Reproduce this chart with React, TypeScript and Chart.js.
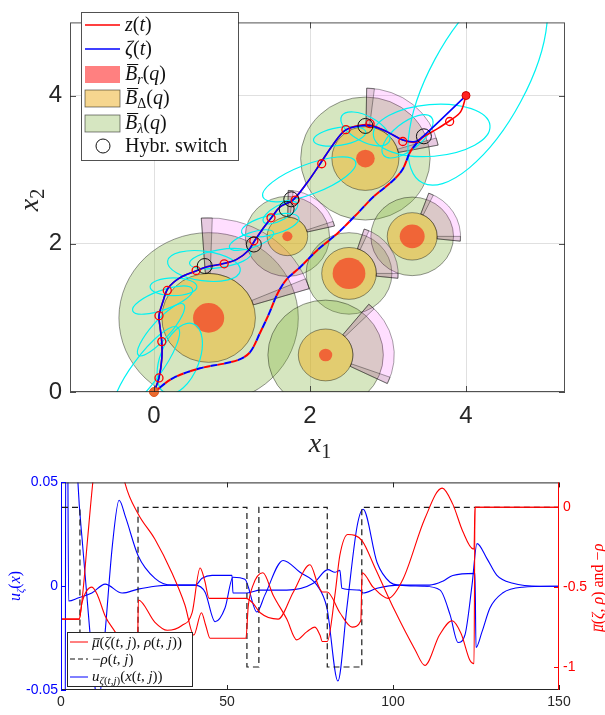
import React, { useEffect, useRef } from 'react';
import { Chart, registerables } from 'chart.js';
Chart.register(...registerables);

// ================= Top chart (state plane) data =================
const topXTicks = [0, 2, 4];
const topYTicks = [0, 2, 4];

// z(t) (red) trajectory
const zX = [0, 0.064, 0.10, 0.10, 0.077, 0.064, 0.115, 0.18, 0.33, 0.53, 0.68, 0.88, 1.06, 1.21, 1.29, 1.40, 1.51, 1.62, 1.78, 1.96, 2.13, 2.29, 2.45, 2.64, 2.79, 2.99, 3.19, 3.35, 3.45, 3.63, 3.79, 3.93, 4.0];
const zY = [0, 0.19, 0.45, 0.67, 0.88, 1.03, 1.22, 1.40, 1.54, 1.63, 1.69, 1.73, 1.79, 1.91, 2.04, 2.21, 2.36, 2.50, 2.59, 2.82, 3.08, 3.33, 3.53, 3.60, 3.60, 3.51, 3.40, 3.37, 3.44, 3.55, 3.66, 3.78, 4.0];
// zeta(t) (blue) trajectory
const zetaX = [0, 0.064, 0.10, 0.10, 0.077, 0.064, 0.115, 0.18, 0.33, 0.53, 0.68, 0.88, 1.06, 1.21, 1.29, 1.40, 1.51, 1.62, 1.78, 1.96, 2.13, 2.29, 2.45, 2.64, 2.79, 2.99, 3.19, 3.35, 3.45, 4.0];
const zetaY = [0, 0.19, 0.45, 0.67, 0.88, 1.03, 1.22, 1.40, 1.54, 1.63, 1.69, 1.73, 1.79, 1.91, 2.04, 2.21, 2.36, 2.50, 2.59, 2.82, 3.08, 3.33, 3.53, 3.59, 3.59, 3.51, 3.40, 3.38, 3.45, 4.0];
// lower (dashed) trajectory
const lowX = [0, 0.25, 0.59, 0.93, 1.12, 1.24, 1.36, 1.48, 1.58, 1.70, 1.87, 2.09, 2.35, 2.60, 2.81, 3.06, 3.19, 3.28, 3.37, 3.45];
const lowY = [0, 0.19, 0.32, 0.39, 0.45, 0.55, 0.80, 1.07, 1.32, 1.52, 1.68, 1.91, 2.14, 2.40, 2.63, 2.85, 3.01, 3.23, 3.36, 3.45];
// red sample markers
const markX = [0.064, 0.10, 0.064, 0.17, 0.54, 0.90, 1.28, 1.50, 1.81, 2.15, 2.46, 2.77, 3.19, 3.79];
const markY = [0.19, 0.68, 1.03, 1.37, 1.64, 1.73, 2.04, 2.35, 2.59, 3.08, 3.54, 3.62, 3.38, 3.65];
// hybrid switch markers
const switchX = [0.65, 1.28, 1.70, 1.76, 2.71, 3.46];
const switchY = [1.70, 1.99, 2.47, 2.60, 3.59, 3.45];
const startX = [0];
const startY = [0];
const endX = [4];
const endY = [4];

// obstacles
const obsX = [0.70, 1.71, 2.71, 2.50, 3.31, 2.20];
const obsY = [1.00, 2.10, 3.15, 1.60, 2.10, 0.50];
const obsRr = [0.20, 0.065, 0.12, 0.21, 0.16, 0.085];
const obsRd = [0.60, 0.26, 0.43, 0.35, 0.32, 0.35];
const obsRl = [1.15, 0.54, 0.83, 0.55, 0.53, 0.74];
const wedgeR = [1.35, 0.62, 0.95, 0.63, 0.62, 0.88];
const wedgeFrom = [17, 13, 11, -6, -6, -26];
const wedgeTo = [94, 89, 89, 72, 70, 51];

// cyan ellipses
const ellX = [4.15, 3.56, 2.38, 2.71, 3.25, 1.99, 1.49, 1.62, 0.64, 0.85, 0.11, 0.25, 0.09, 0.33, -0.10, 1.25];
const ellY = [4.20, 3.53, 3.45, 3.55, 3.45, 2.87, 2.25, 2.42, 1.70, 1.80, 1.24, 1.42, 0.84, 0.45, 0.30, 2.05];
const ellA = [1.55, 0.75, 0.34, 0.35, 0.40, 0.64, 0.38, 0.25, 0.47, 0.40, 0.41, 0.30, 0.45, 0.50, 0.70, 0.30];
const ellB = [0.62, 0.35, 0.12, 0.17, 0.18, 0.20, 0.13, 0.10, 0.20, 0.12, 0.13, 0.12, 0.12, 0.25, 0.18, 0.10];
const ellAng = [63, 5, 10, -30, 40, 22, 15, 30, -8, 10, 21, 0, 50, 70, 55, 20];

// ================= Bottom chart (time series) data =================
const botXTicks = [0, 50, 100, 150];
const leftTicks = [-0.05, 0, 0.05];
const rightTicks = [-1, -0.5, 0];

const u1T = [0, 0.3, 4.0, 5.1, 6.5, 8.7, 10.2, 11.2, 13.3, 15.5, 17.5, 19.5, 23.2, 28.3, 33.4, 40.4, 42.5, 45.5, 51.5, 51.8, 56, 60, 68, 76, 80.4, 82.5, 84, 84.6, 90, 91, 95.2, 102, 111, 115, 118, 124.7, 125, 126.8, 129.2, 133, 139, 150];
const u1V = [0, 0.1, 0.1, 0.05, 0.02, -0.022, -0.048, -0.058, -0.022, 0.02, 0.0414, 0.033, 0.0148, 0.0038, 0.0005, 0.0005, 0.0038, 0.0052, 0.0052, -0.0033, -0.0033, -0.0019, -0.0019, 0.0014, 0.008, 0.0067, 0.0076, -0.001, -0.0019, -0.0033, -0.001, 0.0005, 0.0005, 0.0024, 0.0052, 0.0062, -0.0295, -0.022, -0.0105, -0.0033, -0.0005, 0];
const u2T = [0, 0.25, 1.2, 1.5, 1.9, 2.3, 5.1, 9.3, 13.3, 18.4, 23.2, 28.3, 33.4, 40.4, 43.4, 46.4, 49.4, 51.8, 55.4, 59, 61.4, 66.9, 72, 77.1, 80.1, 83.4, 86.1, 89.2, 91, 95.2, 99.1, 102, 109, 114.2, 117.2, 119.6, 121.7, 123.8, 125.3, 128.3, 131.3, 136.1, 144.3, 150];
const u2V = [0, -0.1, -0.1, 0.1, 0.1, -0.0071, -0.0057, -0.0033, 0.001, -0.0033, -0.0014, 0, 0.0005, 0.0005, -0.0029, -0.0171, -0.0105, 0.0043, 0.0033, -0.0124, -0.0043, 0.0124, 0.0067, 0.0005, -0.0105, -0.0457, -0.0105, 0.029, 0.0371, 0.0114, 0.0019, 0.0005, 0, -0.0019, -0.0138, -0.0271, -0.0233, 0.0005, 0.0205, 0.0133, 0.0052, 0.0014, 0, 0];
const muAT = [0.3, 5.5, 6.5, 8, 9.6, 11, 14, 17, 19.3, 23.2, 28.3, 33.4, 37.3, 40, 42.3, 43.6, 44.9, 55.7, 56.4, 57.8, 60.8, 63.9, 68, 71, 74, 76.5, 78, 78.7, 80.2, 82.5, 84, 86.4, 90.7, 94.6, 100.6, 106.6, 109.6, 114, 117.8, 120.5, 123.2, 124.4, 124.7, 150];
const muAV = [-0.70, -0.70, -0.55, -0.2, 0.16, 0.4, 0.55, 0.4, 0.15, -0.04, -0.20, -0.41, -0.61, -0.80, -0.66, -0.74, -0.82, -0.82, -0.62, -0.49, -0.41, -0.55, -0.70, -0.83, -0.78, -0.75, -0.80, -0.84, -0.84, -0.55, -0.30, -0.17, -0.21, -0.38, -0.65, -0.89, -0.99, -0.80, -0.71, -0.79, -0.96, -0.98, 0, 0];
const muBT = [0.3, 5.5, 6.3, 9.3, 11, 13.3, 16.3, 20, 23.0, 23.3, 28.3, 32, 36.4, 39.5, 41.9, 43.3, 44.6, 55.7, 57.8, 60, 65.4, 70, 75, 77.5, 78.7, 80.2, 84, 87.7, 90.3, 90.7, 94, 98.5, 103, 109.6, 114.8, 118, 121, 124.1, 124.4, 124.7, 150];
const muBV = [-0.70, -0.70, -0.60, -0.50, -0.55, -0.68, -0.78, -0.9, -0.97, -0.58, -0.72, -0.77, -0.74, -0.66, -0.38, -0.46, -0.57, -0.57, -0.60, -0.66, -0.70, -0.53, -0.36, -0.49, -0.53, -0.53, -0.66, -0.75, -0.71, -0.41, -0.50, -0.57, -0.45, -0.07, 0.12, 0.02, -0.15, -0.26, -0.26, 0, 0];
const rhoT = [0.3, 5.7, 5.7, 23.2, 23.2, 56, 56, 59.6, 59.6, 80.2, 80.2, 90.6, 90.6, 150];
const rhoV = [0, 0, -1, -1, 0, 0, -1, -1, 0, 0, -1, -1, 0, 0];

// ================= helpers =================
const pts = (xs: number[], ys: number[]) => xs.map((x, i) => ({ x, y: ys[i] }));
const SERIF = '"Liberation Serif", "DejaVu Serif", serif';
const SANS = '"Liberation Sans", Arial, sans-serif';
const deg = Math.PI / 180;

type Seg = { t: string; i?: boolean; sub?: boolean; bar?: 'cap' | 'x' };
function segFont(s: Seg, size: number) {
  const fs = s.sub ? Math.round(size * 0.7) : size;
  return `${s.i ? 'italic ' : ''}${fs}px ${SERIF}`;
}
function richWidth(ctx: CanvasRenderingContext2D, segs: Seg[], size: number) {
  let w = 0;
  for (const s of segs) {
    ctx.font = segFont(s, size);
    w += ctx.measureText(s.t).width;
  }
  return w;
}
function drawRich(ctx: CanvasRenderingContext2D, segs: Seg[], x: number, y: number, size: number, color: string) {
  let cx = x;
  ctx.fillStyle = color;
  ctx.textBaseline = 'alphabetic';
  ctx.textAlign = 'left';
  for (const s of segs) {
    ctx.font = segFont(s, size);
    const dy = s.sub ? size * 0.22 : 0;
    ctx.fillText(s.t, cx, y + dy);
    const w = ctx.measureText(s.t).width;
    if (s.bar) {
      const by = y - (s.bar === 'cap' ? size * 0.8 : size * 0.58);
      ctx.fillRect(cx + size * 0.1, by, w - size * 0.05, Math.max(1, size * 0.05));
    }
    cx += w;
  }
}

const GREEN = 'rgba(119,172,48,0.3)';
const YELLOW = 'rgba(237,177,32,0.5)';
const REDF = 'rgba(255,0,0,0.5)';
const WEDGE = 'rgba(255,0,255,0.13)';
const STRIP = 'rgba(110,100,80,0.17)';
const EDGE = 'rgba(0,0,0,0.5)';

const shapesPlugin = {
  id: 'shapes',
  beforeDatasetsDraw(chart: any) {
    const { ctx, chartArea: a } = chart;
    const xs = chart.scales.x;
    const ys = chart.scales.y;
    const kx = xs.getPixelForValue(1) - xs.getPixelForValue(0);
    const ky = ys.getPixelForValue(0) - ys.getPixelForValue(1);
    const path = (cx: number, cy: number, build: () => void) => {
      ctx.beginPath();
      ctx.save();
      ctx.translate(xs.getPixelForValue(cx), ys.getPixelForValue(cy));
      ctx.scale(kx, -ky);
      build();
      ctx.restore();
    };
    const ann = (r0: number, r1: number, a0: number, a1: number) => () => {
      ctx.moveTo(r0 * Math.cos(a0), r0 * Math.sin(a0));
      ctx.arc(0, 0, r1, a0, a1, false);
      ctx.arc(0, 0, r0, a1, a0, true);
      ctx.closePath();
    };
    ctx.save();
    ctx.beginPath();
    ctx.rect(a.left, a.top, a.right - a.left, a.bottom - a.top);
    ctx.clip();
    for (let i = 0; i < obsX.length; i++) {
      path(obsX[i], obsY[i], () => ctx.arc(0, 0, obsRl[i], 0, 2 * Math.PI));
      ctx.fillStyle = GREEN;
      ctx.fill();
      ctx.strokeStyle = EDGE;
      ctx.lineWidth = 0.8;
      ctx.stroke();
    }
    for (let i = 0; i < obsX.length; i++) {
      const a0 = wedgeFrom[i] * deg;
      const a1 = wedgeTo[i] * deg;
      const d = 6 * deg;
      path(obsX[i], obsY[i], ann(obsRd[i], wedgeR[i], a0, a1));
      ctx.fillStyle = WEDGE;
      ctx.fill();
      ctx.strokeStyle = EDGE;
      ctx.lineWidth = 0.7;
      ctx.stroke();
      path(obsX[i], obsY[i], ann(obsRd[i], wedgeR[i], a0, a0 + d));
      ctx.fillStyle = STRIP;
      ctx.fill();
      ctx.stroke();
      path(obsX[i], obsY[i], ann(obsRd[i], wedgeR[i], a1 - d, a1));
      ctx.fill();
      ctx.stroke();
    }
    for (let i = 0; i < obsX.length; i++) {
      path(obsX[i], obsY[i], () => ctx.arc(0, 0, obsRd[i], 0, 2 * Math.PI));
      ctx.fillStyle = YELLOW;
      ctx.fill();
      ctx.strokeStyle = EDGE;
      ctx.lineWidth = 0.8;
      ctx.stroke();
    }
    for (let i = 0; i < obsX.length; i++) {
      path(obsX[i], obsY[i], () => ctx.arc(0, 0, obsRr[i], 0, 2 * Math.PI));
      ctx.fillStyle = REDF;
      ctx.fill();
    }
    for (let i = 0; i < ellX.length; i++) {
      path(ellX[i], ellY[i], () => ctx.ellipse(0, 0, ellA[i], ellB[i], ellAng[i] * deg, 0, 2 * Math.PI));
      ctx.strokeStyle = '#00f2f2';
      ctx.lineWidth = 1.2;
      ctx.stroke();
    }
    ctx.restore();
  },
};

const topFramePlugin = {
  id: 'topFrame',
  afterDatasetsDraw(chart: any) {
    const { ctx, chartArea: a } = chart;
    const xs = chart.scales.x;
    const ys = chart.scales.y;
    ctx.save();
    ctx.strokeStyle = 'rgba(38,38,38,0.8)';
    ctx.lineWidth = 1;
    ctx.strokeRect(a.left + 0.5, a.top + 0.5, a.right - a.left - 1, a.bottom - a.top - 1);
    ctx.beginPath();
    for (const v of topXTicks) {
      const p = Math.round(xs.getPixelForValue(v)) + 0.5;
      ctx.moveTo(p, a.bottom); ctx.lineTo(p, a.bottom - 6);
      ctx.moveTo(p, a.top); ctx.lineTo(p, a.top + 6);
    }
    for (const v of topYTicks) {
      const p = Math.round(ys.getPixelForValue(v)) + 0.5;
      ctx.moveTo(a.left, p); ctx.lineTo(a.left + 6, p);
      ctx.moveTo(a.right, p); ctx.lineTo(a.right - 6, p);
    }
    ctx.stroke();
    ctx.restore();
  },
  afterDraw(chart: any) {
    const { ctx } = chart;
    ctx.save();
    // legend box
    ctx.fillStyle = '#ffffff';
    ctx.fillRect(81, 12, 157, 148);
    ctx.strokeStyle = 'rgba(38,38,38,0.8)';
    ctx.lineWidth = 1;
    ctx.strokeRect(81.5, 12.5, 157, 148);
    const rows = [25, 49, 74, 98, 123, 146];
    const fs = 20;
    ctx.lineWidth = 1.6;
    ctx.strokeStyle = '#ff0000';
    ctx.beginPath(); ctx.moveTo(85, rows[0]); ctx.lineTo(120, rows[0]); ctx.stroke();
    ctx.strokeStyle = '#0000ff';
    ctx.beginPath(); ctx.moveTo(85, rows[1]); ctx.lineTo(120, rows[1]); ctx.stroke();
    ctx.fillStyle = '#ff8080';
    ctx.fillRect(85, rows[2] - 8, 35, 17);
    ctx.lineWidth = 0.8;
    ctx.strokeStyle = 'rgba(0,0,0,0.6)';
    ctx.fillStyle = '#f6d68f';
    ctx.fillRect(85, rows[3] - 8, 35, 17);
    ctx.strokeRect(85, rows[3] - 8, 35, 17);
    ctx.fillStyle = '#d6e6c1';
    ctx.fillRect(85, rows[4] - 8, 35, 17);
    ctx.strokeRect(85, rows[4] - 8, 35, 17);
    ctx.strokeStyle = '#111';
    ctx.lineWidth = 1;
    ctx.beginPath(); ctx.arc(103, rows[5], 7, 0, 2 * Math.PI); ctx.stroke();
    const tx = 125;
    const col = '#111';
    drawRich(ctx, [{ t: 'z', i: true }, { t: '(' }, { t: 't', i: true }, { t: ')' }], tx, rows[0] + 6, fs, col);
    drawRich(ctx, [{ t: 'ζ', i: true }, { t: '(' }, { t: 't', i: true }, { t: ')' }], tx, rows[1] + 6, fs, col);
    drawRich(ctx, [{ t: 'B', i: true, bar: 'cap' }, { t: 'r', i: true, sub: true }, { t: '(' }, { t: 'q', i: true }, { t: ')' }], tx, rows[2] + 6, fs, col);
    drawRich(ctx, [{ t: 'B', i: true, bar: 'cap' }, { t: 'Δ', sub: true }, { t: '(' }, { t: 'q', i: true }, { t: ')' }], tx, rows[3] + 6, fs, col);
    drawRich(ctx, [{ t: 'B', i: true, bar: 'cap' }, { t: 'λ', i: true, sub: true }, { t: '(' }, { t: 'q', i: true }, { t: ')' }], tx, rows[4] + 6, fs, col);
    drawRich(ctx, [{ t: 'Hybr. switch' }], tx, rows[5] + 6, fs, col);
    // axis titles
    const xt: Seg[] = [{ t: 'x', i: true }, { t: '1', sub: true }];
    const w1 = richWidth(ctx, xt, 28);
    drawRich(ctx, xt, 320 - w1 / 2, 452, 28, '#262626');
    const yt: Seg[] = [{ t: 'x', i: true }, { t: '2', sub: true }];
    const w2 = richWidth(ctx, yt, 28);
    ctx.translate(38, 200);
    ctx.rotate(-Math.PI / 2);
    drawRich(ctx, yt, -w2 / 2, 0, 28, '#262626');
    ctx.restore();
  },
};

const botFramePlugin = {
  id: 'botFrame',
  afterDatasetsDraw(chart: any) {
    const { ctx, chartArea: a } = chart;
    const xs = chart.scales.x;
    const yl = chart.scales.y;
    const yr = chart.scales.y1;
    ctx.save();
    ctx.lineWidth = 1;
    const seg = (x1: number, y1: number, x2: number, y2: number) => {
      ctx.beginPath(); ctx.moveTo(x1, y1); ctx.lineTo(x2, y2); ctx.stroke();
    };
    ctx.strokeStyle = '#262626';
    seg(a.left, a.top + 0.5, a.right, a.top + 0.5);
    seg(a.left, a.bottom - 0.5, a.right, a.bottom - 0.5);
    for (const v of botXTicks) {
      const p = Math.round(xs.getPixelForValue(v)) + 0.5;
      seg(p, a.bottom, p, a.bottom - 5);
      seg(p, a.top, p, a.top + 5);
    }
    ctx.strokeStyle = '#0000ff';
    seg(a.left + 0.5, a.top, a.left + 0.5, a.bottom);
    for (const v of leftTicks) {
      const p = Math.round(yl.getPixelForValue(v)) + 0.5;
      seg(a.left, p, a.left + 5, p);
    }
    ctx.strokeStyle = '#ff0000';
    seg(a.right - 0.5, a.top, a.right - 0.5, a.bottom);
    for (const v of rightTicks) {
      const p = Math.round(yr.getPixelForValue(v)) + 0.5;
      seg(a.right, p, a.right - 5, p);
    }
    ctx.restore();
  },
  afterDraw(chart: any) {
    const { ctx } = chart;
    ctx.save();
    // legend
    ctx.fillStyle = '#ffffff';
    ctx.fillRect(67, 162, 125, 54);
    ctx.strokeStyle = '#262626';
    ctx.lineWidth = 1;
    ctx.strokeRect(67.5, 162.5, 125, 54);
    const rows = [172, 189, 207];
    ctx.strokeStyle = '#ff0000';
    ctx.beginPath(); ctx.moveTo(70, rows[0]); ctx.lineTo(88, rows[0]); ctx.stroke();
    ctx.strokeStyle = '#111';
    ctx.setLineDash([5, 3]);
    ctx.beginPath(); ctx.moveTo(70, rows[1]); ctx.lineTo(88, rows[1]); ctx.stroke();
    ctx.setLineDash([]);
    ctx.strokeStyle = '#0000ff';
    ctx.beginPath(); ctx.moveTo(70, rows[2]); ctx.lineTo(88, rows[2]); ctx.stroke();
    const fs = 15;
    const tx = 92;
    drawRich(ctx, [{ t: 'μ', i: true, bar: 'x' }, { t: '(' }, { t: 'ζ', i: true }, { t: '(' }, { t: 't', i: true }, { t: ', ' }, { t: 'j', i: true }, { t: '), ' }, { t: 'ρ', i: true }, { t: '(' }, { t: 't', i: true }, { t: ', ' }, { t: 'j', i: true }, { t: '))' }], tx, rows[0] + 5, fs, '#111');
    drawRich(ctx, [{ t: '−' }, { t: 'ρ', i: true }, { t: '(' }, { t: 't', i: true }, { t: ', ' }, { t: 'j', i: true }, { t: ')' }], tx, rows[1] + 5, fs, '#111');
    drawRich(ctx, [{ t: 'u', i: true }, { t: 'ζ', i: true, sub: true }, { t: '(', sub: true }, { t: 't', i: true, sub: true }, { t: ',', sub: true }, { t: 'j', i: true, sub: true }, { t: ')', sub: true }, { t: '(' }, { t: 'x', i: true }, { t: '(' }, { t: 't', i: true }, { t: ', ' }, { t: 'j', i: true }, { t: '))' }], tx, rows[2] + 4, fs, '#111');
    // axis titles
    const lt: Seg[] = [{ t: 'u', i: true }, { t: 'ζ', i: true, sub: true }, { t: '(' }, { t: 'x', i: true }, { t: ')' }];
    const wl = richWidth(ctx, lt, 16);
    ctx.save();
    ctx.translate(20, 116);
    ctx.rotate(-Math.PI / 2);
    drawRich(ctx, lt, -wl / 2, 0, 16, '#0000ff');
    ctx.restore();
    const rt: Seg[] = [{ t: 'μ', i: true, bar: 'x' }, { t: '(' }, { t: 'ζ', i: true }, { t: ', ' }, { t: 'ρ', i: true }, { t: ') and −' }, { t: 'ρ', i: true }];
    const wr = richWidth(ctx, rt, 16);
    ctx.save();
    ctx.translate(603, 118);
    ctx.rotate(-Math.PI / 2);
    drawRich(ctx, rt, -wr / 2, 0, 16, '#ff0000');
    ctx.restore();
    ctx.restore();
  },
};

function topConfig(): any {
  return {
    type: 'scatter',
    data: {
      datasets: [
        { data: pts(startX, startY), pointRadius: 4.5, pointBackgroundColor: '#ea6a2e', pointBorderColor: '#e0561c', showLine: false, clip: false, order: 0 },
        { data: pts(endX, endY), pointRadius: 4, pointBackgroundColor: '#ff2020', pointBorderColor: '#cc0000', showLine: false, order: 0 },
        { data: pts(switchX, switchY), pointRadius: 7.5, pointBackgroundColor: 'rgba(0,0,0,0)', pointBorderColor: '#111', pointBorderWidth: 1, showLine: false, order: 1 },
        { data: pts(markX, markY), pointRadius: 4, pointBackgroundColor: 'rgba(0,0,0,0)', pointBorderColor: '#ff0000', pointBorderWidth: 1.3, showLine: false, order: 2 },
        { data: pts(zetaX, zetaY), showLine: true, borderColor: '#0000ff', borderWidth: 1.6, pointRadius: 0, tension: 0.35, order: 3 },
        { data: pts(zX, zY), showLine: true, borderColor: '#ff0000', borderWidth: 1.6, pointRadius: 0, tension: 0.35, order: 4 },
        { data: pts(lowX, lowY), showLine: true, borderColor: '#0000ff', borderWidth: 2, borderDash: [7, 7], borderDashOffset: 7, pointRadius: 0, tension: 0.35, order: 5 },
        { data: pts(lowX, lowY), showLine: true, borderColor: '#ff0000', borderWidth: 2, borderDash: [7, 7], pointRadius: 0, tension: 0.35, order: 6 },
      ],
    },
    options: {
      animation: false,
      responsive: false,
      maintainAspectRatio: false,
      layout: { padding: { top: 3, right: 40, left: 0, bottom: 0 } },
      plugins: { legend: { display: false }, tooltip: { enabled: false } },
      scales: {
        x: {
          type: 'linear', min: -1.077, max: 5.269,
          afterBuildTicks: (s: any) => { s.ticks = topXTicks.map((v) => ({ value: v })); },
          afterFit: (s: any) => { s.height = 78; },
          grid: { color: 'rgba(0,0,0,0.12)', drawTicks: false },
          border: { display: false },
          ticks: { padding: 10, color: '#262626', font: { size: 24, family: SANS }, maxRotation: 0, callback: (v: any) => String(v) },
        },
        y: {
          type: 'linear', min: 0, max: 4.987,
          afterBuildTicks: (s: any) => { s.ticks = topYTicks.map((v) => ({ value: v })); },
          afterFit: (s: any) => { s.width = 70; },
          grid: { color: 'rgba(0,0,0,0.12)', drawTicks: false },
          border: { display: false },
          ticks: { padding: 8, color: '#262626', font: { size: 24, family: SANS }, callback: (v: any) => String(v) },
        },
      },
    },
    plugins: [shapesPlugin, topFramePlugin],
  };
}

function botConfig(): any {
  const line = (t: number[], v: number[], color: string, axis: string, order: number) => ({
    data: pts(t, v), showLine: true, borderColor: color, borderWidth: 1.1, pointRadius: 0,
    cubicInterpolationMode: 'monotone', yAxisID: axis, order,
  });
  return {
    type: 'scatter',
    data: {
      datasets: [
        line(muAT, muAV, '#ff0000', 'y1', 0),
        line(muBT, muBV, '#ff0000', 'y1', 1),
        { data: pts(rhoT, rhoV), showLine: true, borderColor: '#1a1a1a', borderWidth: 1.2, borderDash: [6, 4], pointRadius: 0, yAxisID: 'y1', order: 2 },
        line(u1T, u1V, '#0000ff', 'y', 3),
        line(u2T, u2V, '#0000ff', 'y', 4),
      ],
    },
    options: {
      animation: false,
      responsive: false,
      maintainAspectRatio: false,
      layout: { padding: { top: 11, right: 0, left: 0, bottom: 0 } },
      plugins: { legend: { display: false }, tooltip: { enabled: false } },
      scales: {
        x: {
          type: 'linear', min: 0, max: 150,
          afterBuildTicks: (s: any) => { s.ticks = botXTicks.map((v) => ({ value: v })); },
          afterFit: (s: any) => { s.height = 25; },
          grid: { display: false, drawTicks: false },
          border: { display: false },
          ticks: { padding: 4, color: '#262626', font: { size: 14, family: SANS }, maxRotation: 0, callback: (v: any) => String(v) },
        },
        y: {
          type: 'linear', position: 'left', min: -0.05, max: 0.05,
          afterBuildTicks: (s: any) => { s.ticks = leftTicks.map((v) => ({ value: v })); },
          afterFit: (s: any) => { s.width = 61; },
          grid: { display: false, drawTicks: false },
          border: { display: false },
          ticks: { padding: 3, color: '#0000ff', font: { size: 14, family: SANS }, callback: (v: any) => (v === 0 ? '0' : Number(v).toFixed(2)) },
        },
        y1: {
          type: 'linear', position: 'right', min: -1.144, max: 0.156,
          afterBuildTicks: (s: any) => { s.ticks = rightTicks.map((v) => ({ value: v })); },
          afterFit: (s: any) => { s.width = 46; },
          grid: { display: false, drawTicks: false },
          border: { display: false },
          ticks: { padding: 4, color: '#ff0000', font: { size: 14, family: SANS }, callback: (v: any) => String(v) },
        },
      },
    },
    plugins: [botFramePlugin],
  };
}

export default function App() {
  const topRef = useRef<HTMLCanvasElement>(null);
  const botRef = useRef<HTMLCanvasElement>(null);
  useEffect(() => {
    const c1 = new Chart(topRef.current as HTMLCanvasElement, topConfig());
    const c2 = new Chart(botRef.current as HTMLCanvasElement, botConfig());
    return () => {
      c1.destroy();
      c2.destroy();
    };
  }, []);
  return (
    <div style={{ position: 'absolute', left: 0, top: 0, width: 605, height: 715, background: '#ffffff' }}>
      <canvas ref={topRef} width={605} height={470} style={{ position: 'absolute', left: 0, top: 0, width: 605, height: 470 }} />
      <canvas ref={botRef} width={605} height={245} style={{ position: 'absolute', left: 0, top: 470, width: 605, height: 245 }} />
    </div>
  );
}
